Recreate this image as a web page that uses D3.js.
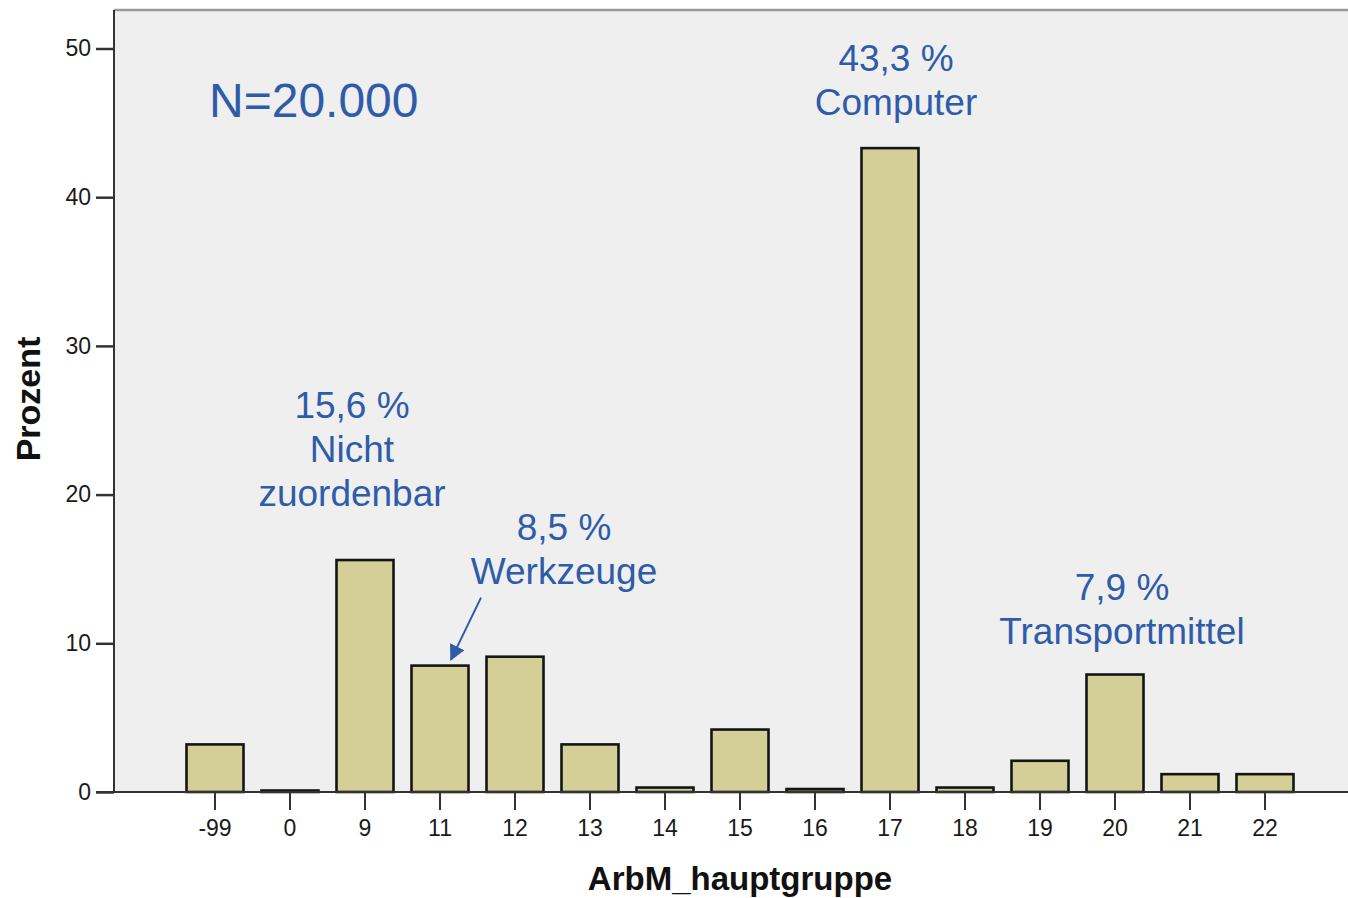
<!DOCTYPE html>
<html>
<head>
<meta charset="utf-8">
<script src="https://cdn.jsdelivr.net/npm/d3@7/dist/d3.min.js"></script>
<style>
  html, body { margin: 0; padding: 0; background: #ffffff; }
  svg { display: block; }
  text { font-family: "Liberation Sans", Arial, sans-serif; }
</style>
</head>
<body>
<svg id="chart" width="1348" height="898"></svg>
<script>
// Main group codes (ArbM_hauptgruppe) and their share in percent
const categories = ["-99", "0", "9", "11", "12", "13", "14", "15", "16", "17", "18", "19", "20", "21", "22"];
const percentValues = [3.2, 0.1, 15.6, 8.5, 9.1, 3.2, 0.3, 4.2, 0.2, 43.3, 0.3, 2.1, 7.9, 1.2, 1.2];
const yTicks = [0, 10, 20, 30, 40, 50];

// Highlighted groups with their label lines (dx/lift in px relative to the bar)
const annotations = [
  { cat: "9",  lines: ["15,6 %", "Nicht", "zuordenbar"], lift: 54, dx: -13 },
  { cat: "11", lines: ["8,5 %", "Werkzeuge"], lift: 82, dx: 124 },
  { cat: "17", lines: ["43,3 %", "Computer"], lift: 33, dx: 6 },
  { cat: "20", lines: ["7,9 %", "Transportmittel"], lift: 31, dx: 7 }
];
const sampleLabel = "N=20.000";

const svg = d3.select("#chart");
const plot = { left: 114, top: 10, right: 1348, bottom: 792 };

const y = d3.scaleLinear().domain([0, 50]).range([plot.bottom, 48.5]);
const step = 75;
const x = d3.scaleBand()
  .domain(categories)
  .range([plot.left + 63.5, plot.left + 63.5 + step * categories.length])
  .paddingInner(0.24)
  .paddingOuter(0.12);

// plot background
svg.append("rect")
  .attr("x", plot.left).attr("y", plot.top)
  .attr("width", plot.right - plot.left).attr("height", plot.bottom - plot.top)
  .attr("fill", "#efefef");

// top frame line
svg.append("line")
  .attr("x1", plot.left).attr("x2", plot.right)
  .attr("y1", plot.top).attr("y2", plot.top)
  .attr("stroke", "#9a9a9a").attr("stroke-width", 2.5);

// bars
svg.append("g").selectAll("rect")
  .data(categories.map((c, i) => ({ c, v: percentValues[i] })))
  .join("rect")
  .attr("x", d => x(d.c))
  .attr("width", x.bandwidth())
  .attr("y", d => y(d.v))
  .attr("height", d => y(0) - y(d.v))
  .attr("fill", "#d3cf97")
  .attr("stroke", "#151515")
  .attr("stroke-width", 2.6);

// y axis
const yAxis = svg.append("g")
  .attr("transform", `translate(${plot.left},0)`)
  .call(d3.axisLeft(y).tickValues(yTicks).tickSize(18).tickPadding(5).tickSizeOuter(0));
yAxis.select(".domain").attr("d", `M0,${plot.top}V${plot.bottom}`).attr("stroke", "#333").attr("stroke-width", 2);
yAxis.selectAll(".tick line").attr("stroke", "#333").attr("stroke-width", 2.5);
yAxis.selectAll(".tick text")
  .attr("font-family", "Liberation Sans, Arial, sans-serif")
  .style("font-size", "23px").attr("fill", "#1a1a1a");

// x axis
const xAxis = svg.append("g")
  .attr("transform", `translate(0,${plot.bottom})`)
  .call(d3.axisBottom(x).tickSize(18).tickPadding(10).tickSizeOuter(0));
xAxis.select(".domain").attr("d", `M${plot.left - 18},0H${plot.right}`).attr("stroke", "#333").attr("stroke-width", 2);
xAxis.selectAll(".tick line").attr("stroke", "#333").attr("stroke-width", 2);
xAxis.selectAll(".tick text")
  .attr("font-family", "Liberation Sans, Arial, sans-serif")
  .style("font-size", "23px").attr("fill", "#1a1a1a");

// axis titles
svg.append("text")
  .attr("x", 740).attr("y", 890)
  .attr("text-anchor", "middle")
  .style("font-size", "33px").attr("font-weight", "bold").attr("fill", "#111")
  .text("ArbM_hauptgruppe");

svg.append("text")
  .attr("transform", "translate(40,399) rotate(-90)")
  .attr("text-anchor", "middle")
  .style("font-size", "34px").attr("font-weight", "bold").attr("fill", "#111")
  .text("Prozent");

const blue = "#2f5ca9";

// sample size
svg.append("text")
  .attr("x", 209).attr("y", 117)
  .style("font-size", "48px").attr("fill", blue)
  .text(sampleLabel);

// value annotations
const lineGap = 44;
annotations.forEach(a => {
  const i = categories.indexOf(a.cat);
  const cx = x(a.cat) + x.bandwidth() / 2 + a.dx;
  const baseY = y(percentValues[i]) - a.lift;
  const n = a.lines.length;
  const t = svg.append("text")
    .attr("text-anchor", "middle")
    .style("font-size", "37px").attr("fill", blue);
  a.lines.forEach((ln, k) => {
    t.append("tspan")
      .attr("x", cx)
      .attr("y", baseY - (n - 1 - k) * lineGap)
      .text(ln);
  });
});

// arrow pointing to the tools bar
const toolsCat = "11";
const tipX = x(toolsCat) + x.bandwidth() / 2 + 11;
const tipY = y(percentValues[categories.indexOf(toolsCat)]) - 6;
svg.append("defs").append("marker")
  .attr("id", "head")
  .attr("viewBox", "0 0 10 10")
  .attr("refX", 9).attr("refY", 5)
  .attr("markerWidth", 8).attr("markerHeight", 8)
  .attr("markerUnits", "strokeWidth")
  .attr("orient", "auto")
  .append("path").attr("d", "M0,0L10,5L0,10Z").attr("fill", blue);
svg.append("line")
  .attr("x1", tipX + 30).attr("y1", tipY - 62)
  .attr("x2", tipX).attr("y2", tipY)
  .attr("stroke", blue).attr("stroke-width", 2)
  .attr("marker-end", "url(#head)");
</script>
</body>
</html>
